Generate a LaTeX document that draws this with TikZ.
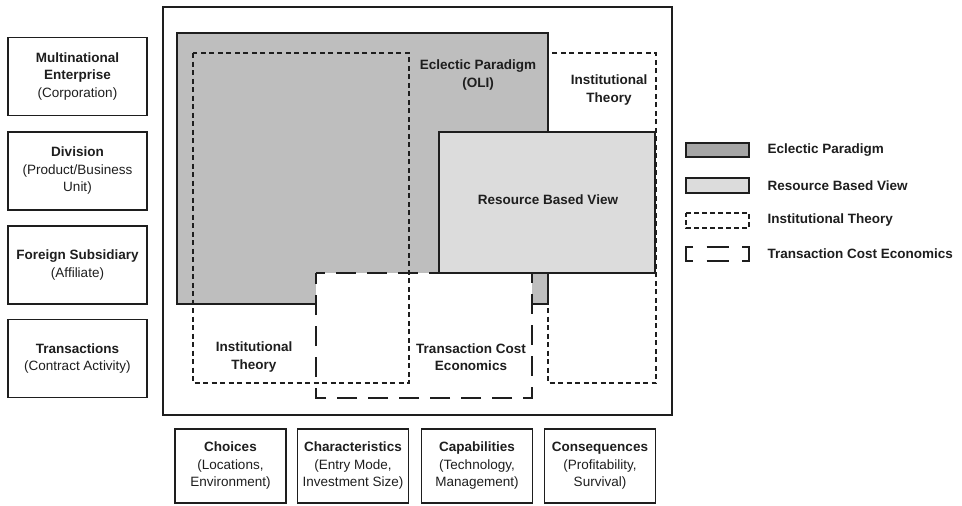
\documentclass[tikz,border=0pt]{standalone}
\usepackage{fontspec}
\setmainfont{Liberation Sans}
\usetikzlibrary{calc}

\definecolor{oligray}{HTML}{BEBEBE}
\definecolor{oliswatch}{HTML}{A6A6A6}
\definecolor{rbvgray}{HTML}{DCDCDC}
\definecolor{edgegray}{HTML}{1E1E1E}

\begin{document}
\begin{tikzpicture}[%
x=1pt, y=-1pt,
every node/.style={font=\fontsize{13.5}{17.5}\selectfont, align=center, text=edgegray},
unitbox/.style={draw=edgegray, line width=1.6pt, minimum width=139pt, minimum height=78pt, inner sep=0pt},
fcbox/.style={draw=edgegray, line width=1.6pt, minimum width=111pt, minimum height=74pt, inner sep=0pt},
itline/.style={draw=edgegray, line width=1.6pt, dash pattern=on 5pt off 3.5pt},
tceline/.style={draw=edgegray, line width=1.6pt, dash pattern=on 20pt off 11pt, dash phase=11pt},
solidline/.style={draw=edgegray, line width=1.6pt},
]
\useasboundingbox (0,0) rectangle (962,506);
%% frame;
\draw [edgegray, line width=1.2pt] (163,7) rectangle (672,415);
%% eclectic paradigm;
\filldraw [fill=oligray, solidline] (177,33) rectangle (548,304);
%% transaction cost economics (fill);
\fill [white] (316,273) rectangle (532,398);
%% institutional theory;
\draw [itline] (193,53) rectangle (409,383);
\draw [itline] (548,53) rectangle (656,383);
%% resource based view;
\filldraw [fill=rbvgray, solidline] (439,132) rectangle (655,273);
%% transaction cost economics;
\draw [tceline] (316,273) -- (532,273) -- (532,398) -- (316,398) -- cycle;
%% labels;
\node [font=\fontsize{13.5}{17.5}\selectfont\bfseries] (olilabel) at (478,75) {Eclectic Paradigm\\(OLI)};
\node [font=\fontsize{13.5}{17.5}\selectfont\bfseries] (itlabeltop) at (609,90) {Institutional\\Theory};
\node [font=\fontsize{13.5}{17.5}\selectfont\bfseries] (rbvlabel) at (548,200) {Resource Based View};
\node [font=\fontsize{13.5}{17.5}\selectfont\bfseries] (itlabelbot) at (254,357) {Institutional\\Theory};
\node [font=\fontsize{13.5}{17.5}\selectfont\bfseries] (tcelabel) at (471,357) {Transaction Cost\\Economics};
%% units of analysis;
\node [unitbox] (mne) at (77.5,76.5) {\textbf{Multinational}\\\textbf{Enterprise}\\(Corporation)};
\node [unitbox] (division) at (77.5,171) {\textbf{Division}\\(Product/Business\\Unit)};
\node [unitbox] (subsidiary) at (77.5,265) {\textbf{Foreign Subsidiary}\\(Affiliate)};
\node [unitbox] (transactions) at (77.5,358.5) {\textbf{Transactions}\\(Contract Activity)};
%% four cs;
\node [fcbox] (choices) at (230.5,466) {\textbf{Choices}\\(Locations,\\Environment)};
\node [fcbox] (characteristics) at (353,466) {\textbf{Characteristics}\\(Entry Mode,\\Investment Size)};
\node [fcbox] (capabilities) at (477,466) {\textbf{Capabilities}\\(Technology,\\Management)};
\node [fcbox] (consequences) at (600,466) {\textbf{Consequences}\\(Profitability,\\Survival)};
%% legend;
\filldraw [fill=oliswatch, solidline] (686,143) rectangle (749,157);
\filldraw [fill=rbvgray, solidline] (686,178) rectangle (749,193);
\draw [itline, dash pattern=on 5pt off 3pt, dash phase=1pt] (686,213) rectangle (749,228);
\draw [solidline] (693,247) -- (686,247) -- (686,261) -- (693,261);
\draw [solidline] (742,247) -- (749,247) -- (749,261) -- (742,261);
\draw [solidline] (706.5,247) -- (728.5,247);
\draw [solidline] (706.5,261) -- (728.5,261);
\node [anchor=west, font=\fontsize{13.5}{17.5}\selectfont\bfseries] (legoli) at (764,150) {Eclectic Paradigm};
\node [anchor=west, font=\fontsize{13.5}{17.5}\selectfont\bfseries] (legrbv) at (764,185.5) {Resource Based View};
\node [anchor=west, font=\fontsize{13.5}{17.5}\selectfont\bfseries] (legit) at (764,220.5) {Institutional Theory};
\node [anchor=west, font=\fontsize{13.5}{17.5}\selectfont\bfseries] (legtce) at (764,254) {Transaction Cost Economics};
\end{tikzpicture}
\end{document}
